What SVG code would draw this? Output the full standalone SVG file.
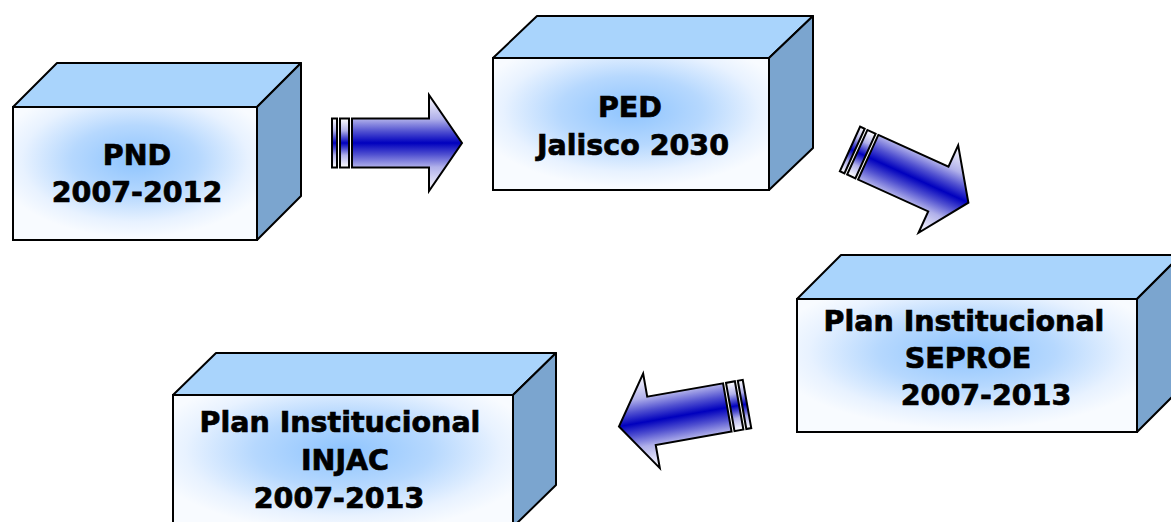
<svg xmlns="http://www.w3.org/2000/svg" width="1171" height="522" viewBox="0 0 1171 522">
<style>
.front{fill:url(#frontGrad);stroke:#000;stroke-width:2}
.top{fill:#A9D4FC;stroke:#000;stroke-width:2;stroke-linejoin:round}
.side{fill:#7BA5CF;stroke:#000;stroke-width:2;stroke-linejoin:round}
.lbl{font-family:"DejaVu Sans","Verdana",sans-serif;font-weight:bold;font-size:28.5px;fill:#000;stroke:#000;stroke-width:0.7px;text-anchor:middle}
.arr{fill:url(#arrGrad);stroke:#000;stroke-width:2;stroke-linejoin:miter}
</style>
<defs>
<radialGradient id="frontGrad" cx="0.5" cy="0.4" r="0.58">
<stop offset="0" stop-color="#8EC4FE"/>
<stop offset="0.45" stop-color="#B6D8FE"/>
<stop offset="0.8" stop-color="#E8F2FF"/>
<stop offset="1" stop-color="#F8FBFF"/>
</radialGradient>
<linearGradient id="arrGrad" x1="0" y1="0" x2="0" y2="1">
<stop offset="0" stop-color="#FFFFFF"/>
<stop offset="0.25" stop-color="#B0B0EA"/>
<stop offset="0.38" stop-color="#5050D0"/>
<stop offset="0.5" stop-color="#0000BE"/>
<stop offset="0.62" stop-color="#5050D0"/>
<stop offset="0.75" stop-color="#B0B0EA"/>
<stop offset="1" stop-color="#FFFFFF"/>
</linearGradient>
<g id="arrow">
<rect class="arr" x="0" y="-24.5" width="5" height="49"/>
<rect class="arr" x="8" y="-24.5" width="9" height="49"/>
<path class="arr" d="M20,-24.5 L97,-24.5 L97,-48 L130,0 L97,48 L97,24.5 L20,24.5 Z"/>
</g>
</defs>
<rect width="1171" height="522" fill="#fff"/>

<g id="connectors">
<use href="#arrow" transform="translate(332,143)"/>
<use href="#arrow" transform="translate(850,149) rotate(24.4)"/>
<use href="#arrow" transform="translate(747,404) rotate(170)"/>
</g>

<g id="node-pnd">
<polygon class="top" points="13,107 57,63 301,63 257,107"/>
<polygon class="side" points="257,107 301,63 301,196 257,240"/>
<rect class="front" x="13" y="107" width="244" height="133"/>
<text class="lbl" x="137" y="165">PND</text>
<text class="lbl" x="137" y="202">2007-2012</text>
</g>

<g id="node-ped">
<polygon class="top" points="493,58 537,16 813,16 769,58"/>
<polygon class="side" points="769,58 813,16 813,148 769,190"/>
<rect class="front" x="493" y="58" width="276" height="132"/>
<text class="lbl" x="630" y="117">PED</text>
<text class="lbl" x="633" y="155">Jalisco 2030</text>
</g>

<g id="node-seproe">
<polygon class="top" points="797,299 841,255 1181,255 1137,299"/>
<polygon class="side" points="1137,299 1181,255 1181,388 1137,432"/>
<rect class="front" x="797" y="299" width="340" height="133"/>
<text class="lbl" x="964" y="331">Plan Institucional</text>
<text class="lbl" x="968" y="368">SEPROE</text>
<text class="lbl" x="986" y="405">2007-2013</text>
</g>

<g id="node-injac">
<polygon class="top" points="173,395 216,353 556,353 513,395"/>
<polygon class="side" points="513,395 556,353 556,485 513,527"/>
<rect class="front" x="173" y="395" width="340" height="140"/>
<text class="lbl" x="340" y="432">Plan Institucional</text>
<text class="lbl" x="345" y="470">INJAC</text>
<text class="lbl" x="339" y="508">2007-2013</text>
</g>
</svg>
